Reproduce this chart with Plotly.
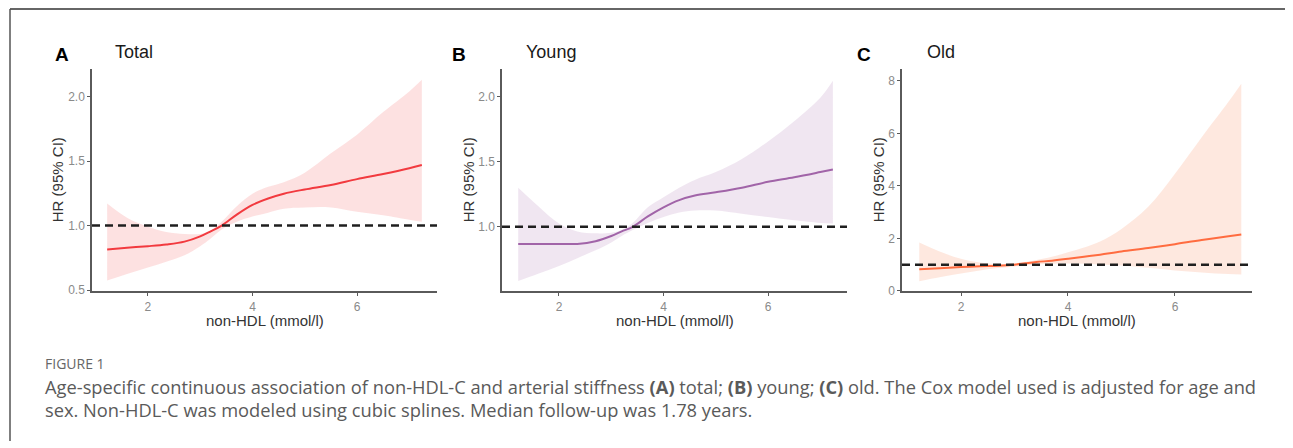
import plotly.graph_objects as go

# ---------------- data ----------------
nonhdl = [1.22, 1.6, 2.0, 2.35, 2.7, 3.0, 3.2, 3.41, 3.7, 4.0, 4.3, 4.6, 5.0, 5.5, 6.0, 6.5, 7.0, 7.24]

total_hr = [0.815, 0.828, 0.84, 0.853, 0.875, 0.916, 0.955, 1.0, 1.085, 1.16, 1.21, 1.247, 1.28, 1.315, 1.36, 1.40, 1.445, 1.47]
total_hi = [1.17, 1.06, 0.99, 0.95, 0.935, 0.935, 0.96, 1.03, 1.15, 1.247, 1.30, 1.336, 1.41, 1.56, 1.705, 1.88, 2.04, 2.13]
total_lo = [0.573, 0.625, 0.674, 0.72, 0.77, 0.84, 0.90, 0.97, 1.03, 1.07, 1.10, 1.13, 1.14, 1.14, 1.107, 1.08, 1.045, 1.03]

young_hr = [0.869, 0.869, 0.869, 0.869, 0.89, 0.93, 0.965, 1.0, 1.08, 1.15, 1.205, 1.24, 1.265, 1.30, 1.345, 1.38, 1.42, 1.44]
young_hi = [1.30, 1.16, 1.025, 0.965, 0.95, 0.955, 0.975, 1.03, 1.15, 1.227, 1.30, 1.36, 1.42, 1.52, 1.655, 1.81, 1.99, 2.12]
young_lo = [0.584, 0.64, 0.70, 0.76, 0.82, 0.88, 0.93, 0.975, 1.03, 1.075, 1.11, 1.126, 1.125, 1.10, 1.075, 1.05, 1.03, 1.025]

old_hr = [0.82, 0.86, 0.91, 0.94, 0.96, 1.0, 1.05, 1.1, 1.15, 1.22, 1.3, 1.38, 1.5, 1.63, 1.78, 1.94, 2.08, 2.15]
old_hi = [1.84, 1.5, 1.22, 1.08, 1.02, 1.05, 1.1, 1.18, 1.3, 1.47, 1.65, 1.88, 2.36, 3.2, 4.46, 5.85, 7.2, 7.89]
old_lo = [0.37, 0.52, 0.66, 0.78, 0.87, 0.93, 0.97, 1.0, 1.03, 1.04, 1.03, 1.0, 0.97, 0.88, 0.78, 0.70, 0.64, 0.62]

panel_letters = ["A", "B", "C"]
panel_titles = ["Total", "Young", "Old"]
x_ticks = [2, 4, 6]
y_ticks_total = [0.5, 1.0, 1.5, 2.0]
y_ticks_young = [1.0, 1.5, 2.0]
y_ticks_old = [0, 2, 4, 6, 8]
ref_hr = 1.0

x_title = "non-HDL (mmol/l)"
y_title = "HR (95% CI)"
fig_label = "FIGURE 1"
caption_1 = ("Age-specific continuous association of non-HDL-C and arterial stiffness <b>(A)</b> total; "
             "<b>(B)</b> young; <b>(C)</b> old. The Cox model used is adjusted for age and")
caption_2 = "sex. Non-HDL-C was modeled using cubic splines. Median follow-up was 1.78 years."

# ---------------- layout helpers ----------------
# page body has an 8px margin, so the figure is drawn 8px smaller and positions are offset
OFF = 8
W, H = 1293 - OFF, 448 - OFF
def px(x):
    return (x - OFF) / W
def py(y):
    return 1 - (y - OFF) / H

panels = [
    dict(hr=total_hr, lo=total_lo, hi=total_hi, line="#f23a3f", fill="rgba(252,205,205,0.6)",
         xd=(92, 437), xr=[0.93, 7.53], yr=[0.489, 2.214], yt=y_ticks_total, fmt=".1f",
         letter_x=62, title_x=113, ytitle_x=57),
    dict(hr=young_hr, lo=young_lo, hi=young_hi, line="#a164a8", fill="rgba(225,205,228,0.5)",
         xd=(502, 847), xr=[0.91, 7.51], yr=[0.505, 2.21], yt=y_ticks_young, fmt=".1f",
         letter_x=459, title_x=524, ytitle_x=468),
    dict(hr=old_hr, lo=old_lo, hi=old_hi, line="#ff6c40", fill="rgba(253,213,196,0.55)",
         xd=(902, 1252), xr=[0.897, 7.44], yr=[-0.02, 8.45], yt=y_ticks_old, fmt="d",
         letter_x=864, title_x=925, ytitle_x=878),
]

fig = go.Figure()
annotations = []
shapes = []
ytop, ybot = 70, 296
font_main = "Arial, Liberation Sans, sans-serif"

for i, p in enumerate(panels):
    n = "" if i == 0 else str(i + 1)
    xa, ya = "x" + n, "y" + n
    fig.add_trace(go.Scatter(x=nonhdl, y=p["lo"], mode="lines", line=dict(width=0, shape="spline"),
                             xaxis=xa, yaxis=ya, showlegend=False, hoverinfo="skip"))
    fig.add_trace(go.Scatter(x=nonhdl, y=p["hi"], mode="lines", line=dict(width=0, shape="spline"),
                             fill="tonexty", fillcolor=p["fill"],
                             xaxis=xa, yaxis=ya, showlegend=False, hoverinfo="skip"))
    fig.add_trace(go.Scatter(x=nonhdl, y=p["hr"], mode="lines",
                             line=dict(width=2, color=p["line"], shape="spline"),
                             xaxis=xa, yaxis=ya, showlegend=False))
    axis_common = dict(showline=True, linecolor="#5a5a5a", linewidth=1.5, ticks="outside",
                       ticklen=3, tickwidth=1.2, tickcolor="#5a5a5a", showgrid=False, zeroline=False,
                       tickfont=dict(family=font_main, size=12, color="#8a8a8a"))
    fig.layout["xaxis" + n] = dict(domain=[px(p["xd"][0]), px(p["xd"][1])], range=p["xr"],
                                   anchor=ya, tickvals=x_ticks, **axis_common)
    fig.layout["yaxis" + n] = dict(domain=[py(ybot), py(ytop)], range=p["yr"], anchor=xa,
                                   tickvals=p["yt"], tickformat=p["fmt"], **axis_common)
    shapes.append(dict(type="line", xref=xa + " domain", yref=ya, x0=0, x1=1, y0=ref_hr, y1=ref_hr,
                       line=dict(color="#1f1f1f", width=2.5, dash="8px,5px"), layer="above"))
    annotations.append(dict(text="<b>" + panel_letters[i] + "</b>", x=px(p["letter_x"]), y=py(55),
                            xref="paper", yref="paper", xanchor="center", yanchor="middle",
                            showarrow=False, font=dict(family=font_main, size=19, color="#000")))
    annotations.append(dict(text=panel_titles[i], x=px(p["title_x"]), y=py(53),
                            xref="paper", yref="paper", xanchor="left", yanchor="middle",
                            showarrow=False, font=dict(family=font_main, size=18, color="#1a1a1a")))
    annotations.append(dict(text=y_title, x=px(p["ytitle_x"]), y=py((ytop + ybot) / 2), textangle=-90,
                            xref="paper", yref="paper", xanchor="center", yanchor="middle",
                            showarrow=False, font=dict(family=font_main, size=15, color="#333")))
    annotations.append(dict(text=x_title, x=px((p["xd"][0] + p["xd"][1]) / 2), y=py(326),
                            xref="paper", yref="paper", xanchor="center", yanchor="middle",
                            showarrow=False, font=dict(family=font_main, size=15, color="#333")))

# frame lines (top and left)
shapes.append(dict(type="line", xref="paper", yref="paper", x0=px(10), x1=1, y0=py(9), y1=py(9),
                   line=dict(color="#333", width=1.5)))
shapes.append(dict(type="line", xref="paper", yref="paper", x0=px(10), x1=px(10), y0=py(9), y1=0,
                   line=dict(color="#555", width=1.5)))

cap_font = "Open Sans, Lato, sans-serif"
annotations.append(dict(text=fig_label, x=px(43), y=py(369), xref="paper", yref="paper",
                        xanchor="left", yanchor="middle", showarrow=False,
                        font=dict(family=cap_font, size=14, color="#666")))
annotations.append(dict(text=caption_1, x=px(43), y=py(393), xref="paper", yref="paper",
                        xanchor="left", yanchor="middle", showarrow=False,
                        font=dict(family=cap_font, size=18.3, color="#5a5a5a")))
annotations.append(dict(text=caption_2, x=px(43), y=py(416), xref="paper", yref="paper",
                        xanchor="left", yanchor="middle", showarrow=False,
                        font=dict(family=cap_font, size=18.3, color="#5a5a5a")))

fig.update_layout(width=W, height=H, margin=dict(l=0, r=0, t=0, b=0),
                  paper_bgcolor="white", plot_bgcolor="white",
                  annotations=annotations, shapes=shapes)

fig.write_html("out.html")
